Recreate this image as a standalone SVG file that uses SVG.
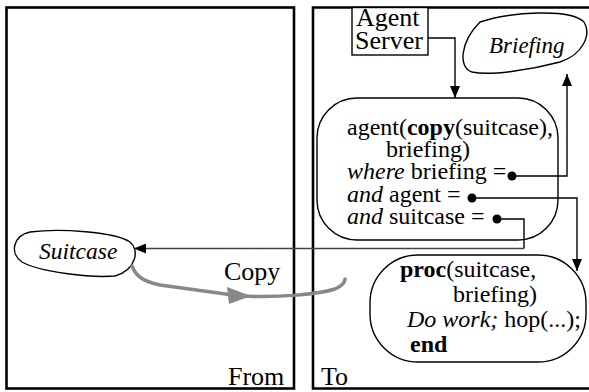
<svg xmlns="http://www.w3.org/2000/svg" width="589" height="392" viewBox="0 0 589 392" font-family="'Liberation Serif', 'Times New Roman', 'DejaVu Serif', serif">
<style>
text{font-size:24px;fill:#000}
.lbl{font-size:26px}
.i{font-style:italic}
.b{font-weight:bold}
.panel{fill:none;stroke:#000;stroke-width:2.6}
.shape{fill:#fff;stroke:#000;stroke-width:1.4}
.conn{fill:none;stroke:#000;stroke-width:1.4}
.dot{fill:#000}
</style>
<defs>
<marker id="ah" markerWidth="12" markerHeight="10" refX="12" refY="5" orient="auto" markerUnits="userSpaceOnUse">
<path d="M0,0 L12,5 L0,10 z" fill="#000"/>
</marker>
</defs>
<g id="panel-from">
<rect class="panel" x="6.5" y="7.5" width="287.5" height="381"/>
<text class="lbl" x="228" y="385">From</text>
</g>
<g id="panel-to">
<path class="panel" d="M592 7.5 H313 V388.5 H592"/>
<text class="lbl" x="321" y="385">To</text>
</g>
<g id="agent-server">
<rect class="shape" x="352" y="7.5" width="76" height="47.5"/>
<text class="lbl" x="356" y="26">Agent</text>
<text class="lbl" x="355" y="49">Server</text>
</g>
<g id="briefing">
<path class="shape" d="M480 22 C510 12,570 8,584 22 C592 35,582 55,560 62 C530 70,490 76,472 72 C458 68,460 42,480 22 Z"/>
<text class="i" style="font-size:23px" x="489" y="53">Briefing</text>
</g>
<g id="agent-expr">
<rect class="shape" x="317" y="98" width="241" height="142" rx="40" ry="40"/>
<text x="347" y="134.5">agent(<tspan class="b">copy</tspan>(suitcase),</text>
<text x="386" y="157">briefing)</text>
<text x="347" y="179"><tspan class="i">where</tspan> briefing =</text>
<text x="347" y="201.5"><tspan class="i">and</tspan> agent =</text>
<text x="347" y="224"><tspan class="i">and</tspan> suitcase =</text>
</g>
<g id="suitcase">
<path class="shape" d="M30 232 C60 228,115 232,130 242 C140 250,136 270,115 276 C90 278,40 272,22 262 C10 254,12 236,30 232 Z"/>
<text class="i" style="font-size:23.5px" x="39" y="259">Suitcase</text>
</g>
<g id="proc">
<rect class="shape" x="370" y="255" width="216" height="107" rx="48" ry="48"/>
<text x="400" y="277"><tspan class="b">proc</tspan>(suitcase,</text>
<text x="453" y="302">briefing)</text>
<text x="407" y="327"><tspan class="i">Do work;</tspan> hop(...);</text>
<text class="b" x="410" y="352">end</text>
</g>
<g id="connectors">
<path class="conn" d="M428 38 H455 V98" marker-end="url(#ah)"/>
<path class="conn" d="M512 176 H567 V74" marker-end="url(#ah)"/>
<path class="conn" d="M472 198 H577 V271" marker-end="url(#ah)"/>
<path class="conn" d="M497 219 H524 V248.5"/>
<path class="conn" style="stroke:#444" d="M524 248.5 H134" marker-end="url(#ah)"/>
<circle class="dot" cx="512" cy="176" r="4.5"/>
<circle class="dot" cx="472" cy="198" r="4.5"/>
<circle class="dot" cx="497" cy="219" r="4.5"/>
<path d="M132 266 C136 276,142 281,160 285 L240 296 C280 298,320 294,335 289 C342 286,345 282,345 279" fill="none" stroke="#888" stroke-width="3.5" stroke-linecap="round"/>
<polygon points="251,296 227,287 229,304" fill="#888"/>
<text class="lbl" x="224" y="280">Copy</text>
</g>
</svg>
